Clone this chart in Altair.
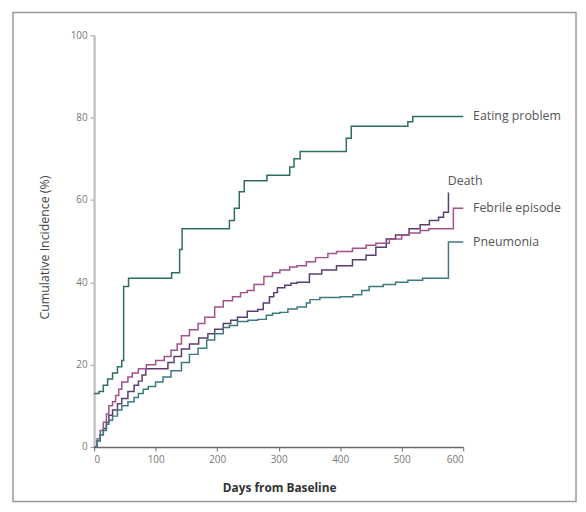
import altair as alt
import pandas as pd

# ---- data ----
series_names = ["Eating problem", "Death", "Febrile episode", "Pneumonia"]
series_colors = ["#2f6e5c", "#5a3d6e", "#a4508c", "#3a7a80"]

eating_days = [0, 8, 15, 22, 30, 38, 45, 48, 56, 120, 126, 136, 139, 143, 220, 228, 236, 244, 276, 281, 312, 318, 325, 335, 402, 410, 418, 426, 502, 510, 518, 600]
eating_vals = [13, 13.5, 15, 16.5, 18, 19.5, 21, 39, 41, 41, 42.3, 42.3, 48, 53, 55, 58, 62, 64.7, 64.7, 66, 66, 68, 70, 71.8, 71.8, 75, 77.9, 77.9, 77.9, 79, 80.3, 80.3]

death_days = [0, 5, 10, 15, 20, 24, 30, 38, 45, 55, 65, 72, 78, 84, 112, 120, 130, 142, 155, 170, 185, 196, 210, 222, 233, 249, 266, 275, 285, 292, 298, 310, 320, 330, 350, 370, 394, 420, 442, 458, 475, 490, 512, 530, 545, 560, 568, 576]
death_vals = [0, 1.5, 3, 4.5, 6, 7.7, 9, 10.5, 11.8, 13.5, 15, 16, 17.5, 19, 19, 20.5, 22, 23.8, 25, 26.5, 27.5, 28.6, 30, 30.8, 31.5, 33, 33.4, 35, 36.5, 37.5, 38.7, 39.3, 39.8, 40, 42, 43, 44, 45.5, 46.6, 48.5, 50.5, 51.5, 53, 54, 55, 55.8, 57, 61.8]

febrile_days = [0, 5, 10, 15, 20, 24, 30, 35, 40, 45, 55, 62, 72, 85, 100, 114, 125, 135, 142, 155, 169, 180, 196, 210, 225, 238, 249, 260, 276, 290, 302, 318, 330, 345, 360, 380, 394, 420, 442, 458, 480, 500, 512, 530, 544, 584, 600]
febrile_vals = [0, 2, 4, 6, 8, 10, 11, 12.5, 14, 15.8, 17, 18, 19, 20, 21, 22, 23.5, 25, 27, 28.5, 30, 31.5, 34, 35.5, 36.5, 37.5, 38, 39.5, 41.4, 42.3, 43, 43.7, 44, 45, 46, 47, 47.5, 48.3, 49, 49.5, 50.5, 51.5, 52, 52.6, 53, 58, 58]

pneumonia_days = [0, 5, 10, 15, 20, 24, 30, 38, 45, 55, 65, 72, 80, 88, 100, 112, 125, 142, 155, 169, 183, 196, 210, 220, 233, 250, 266, 280, 290, 302, 315, 330, 345, 351, 367, 400, 421, 435, 447, 470, 490, 510, 534, 576, 600]
pneumonia_vals = [0, 1.5, 3, 4, 5.5, 6.5, 7.5, 9, 10, 11, 12, 13, 14, 14.7, 15.8, 17, 18.5, 20.5, 22.5, 24, 26, 27.5, 29, 29.5, 30.5, 30.8, 31, 32, 32.5, 32.7, 33.5, 34, 35, 35.8, 36.3, 36.5, 37, 38, 39, 39.5, 40, 40.5, 41, 49.8, 49.8]

label_texts = ["Eating problem", "Death", "Febrile episode", "Pneumonia"]
label_days = [616, 575, 616, 616]
label_vals = [80.3, 64.5, 58, 49.8]

x_ticks = [0, 100, 200, 300, 400, 500, 600]
y_ticks = [0, 20, 40, 60, 80, 100]

# ---- build tables ----
rows = []
for name, days, vals in [
    ("Eating problem", eating_days, eating_vals),
    ("Death", death_days, death_vals),
    ("Febrile episode", febrile_days, febrile_vals),
    ("Pneumonia", pneumonia_days, pneumonia_vals),
]:
    for d, v in zip(days, vals):
        rows.append({"series": name, "day": d, "value": v})
df = pd.DataFrame(rows)
labels = pd.DataFrame({"text": label_texts, "day": label_days, "value": label_vals})

FONT = "Open Sans"
VIEW_W, VIEW_H = 569, 494

# plot area placed inside the framed view via the scale ranges
x_scale = alt.Scale(domain=[0, 600], nice=False, range=[82, 455])
y_scale = alt.Scale(domain=[0, 100], nice=False, range=[439, 23])

lines = alt.Chart(df).mark_line(interpolate="step-after", strokeWidth=1.5).encode(
    x=alt.X("day:Q", scale=x_scale,
            axis=alt.Axis(values=x_ticks, title="Days from Baseline", grid=False,
                          offset=-(VIEW_H - 439),
                          domainColor="#6a6a6a", domainWidth=1.6,
                          tickColor="#6a6a6a", tickSize=4, labelPadding=4,
                          labelColor="#777777", labelFontSize=10, labelFont=FONT,
                          titleFont=FONT, titleFontSize=12, titleFontWeight="bold",
                          titleColor="#333333", titleX=269, titleY=41,
                          titleBaseline="middle")),
    y=alt.Y("value:Q", scale=y_scale,
            axis=alt.Axis(values=y_ticks, title="Cumulative Incidence (%)", grid=False,
                          offset=-82,
                          domainColor="#c4c4c4", domainWidth=2.5,
                          tickColor="#999999", tickSize=4, labelPadding=3,
                          labelColor="#777777", labelFontSize=10, labelFont=FONT,
                          titleFont=FONT, titleFontSize=12.5, titleFontWeight="normal",
                          titleColor="#444444", titleX=-50, titleY=237,
                          titleBaseline="middle", titleAngle=-90)),
    color=alt.Color("series:N", scale=alt.Scale(domain=series_names, range=series_colors), legend=None),
    detail="series:N",
)

texts = alt.Chart(labels).mark_text(align="left", baseline="middle", font=FONT,
                                    fontSize=12.5, color="#555555").encode(
    x=alt.X("day:Q", scale=x_scale),
    y=alt.Y("value:Q", scale=y_scale),
    text="text:N",
)

chart = alt.layer(lines, texts).properties(
    width=VIEW_W, height=VIEW_H,
    autosize=alt.AutoSizeParams(type="none"),
    padding={"left": 5, "top": 2, "right": 2, "bottom": 1},
).configure_view(stroke="#9a9a9a", strokeWidth=1.5)

chart.save("out.html", embed_options={"renderer": "svg", "actions": False})
